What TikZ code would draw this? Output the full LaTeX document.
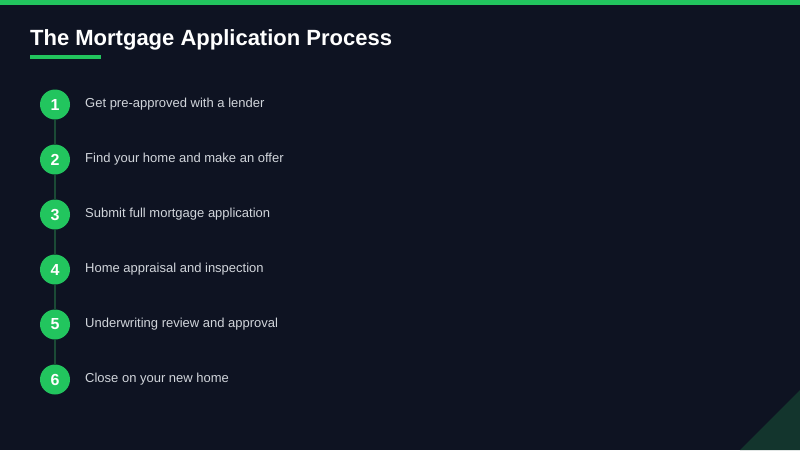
\documentclass[tikz,border=0pt]{standalone}
\usepackage{fontspec}
\setmainfont{Liberation Sans}
\definecolor{bgc}{HTML}{0E1322}
\definecolor{accent}{HTML}{22C55E}
\definecolor{linkc}{HTML}{1B4A36}
\definecolor{tric}{HTML}{13352D}
\definecolor{txtc}{HTML}{D1D5DB}
\begin{document}
\begin{tikzpicture}[x=1pt,y=-1pt,
  stepcircle/.style={circle,fill=accent,minimum size=30pt,inner sep=0pt,text=white,font=\fontsize{16}{18}\selectfont\bfseries},
  steplabel/.style={anchor=base west,inner sep=0pt,text=txtc,font=\fontsize{13}{15}\selectfont},
  link/.style={draw=linkc,line width=2pt}]
\fill[bgc] (0,0) rectangle (800,450);
\useasboundingbox (0,0) rectangle (800,450);
\fill[accent] (0,0) rectangle (800,5);
\fill[tric] (800,390) -- (800,450) -- (740,450) -- cycle;
\node[anchor=base west,inner sep=0pt,text=white,font=\fontsize{22}{26}\selectfont\bfseries] (title) at (30,45) {The Mortgage Application Process};
\fill[accent] (30,55) rectangle (101,59);
\foreach \i/\t [count=\k from 0] in {1/Get pre-approved with a lender,2/Find your home and make an offer,3/Submit full mortgage application,4/Home appraisal and inspection,5/Underwriting review and approval,6/Close on your new home}{
  \node[stepcircle] (c\i) at (55,104.5+55*\k) {\i};
  \node[steplabel] (t\i) at (85,107+55*\k) {\t};
}
\foreach \a/\b in {1/2,2/3,3/4,4/5,5/6}{
  \draw[link] (c\a.south) -- (c\b.north);
}
\end{tikzpicture}
\end{document}
